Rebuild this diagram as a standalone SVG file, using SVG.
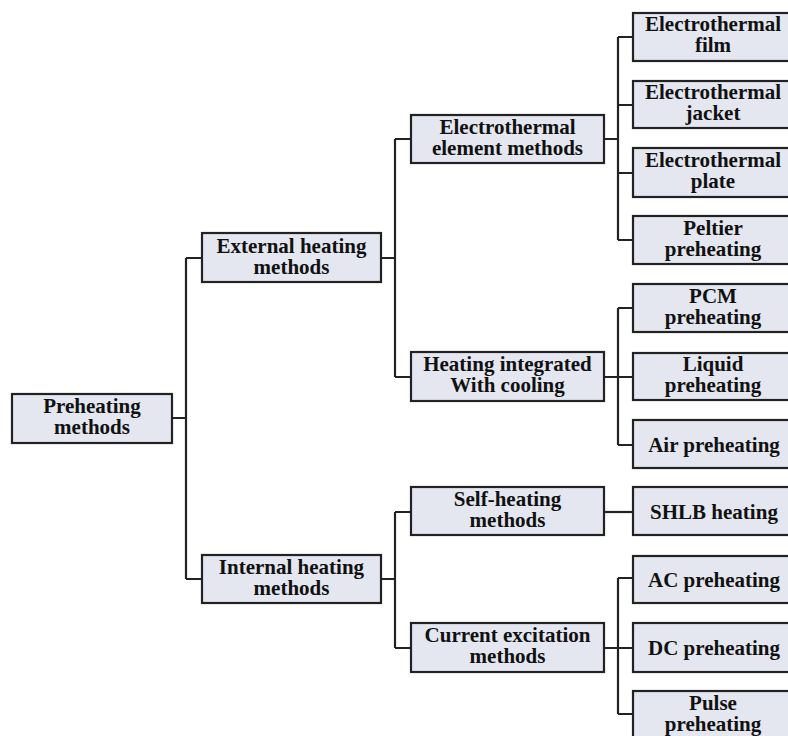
<svg xmlns="http://www.w3.org/2000/svg" width="788" height="736" viewBox="0 0 788 736">
<style>
.box{fill:#e4e7f0;stroke:#222;stroke-width:2.2}
.t{font-family:"Liberation Serif","Times New Roman",serif;font-weight:bold;font-size:21px;fill:#111;text-anchor:middle}
.c{fill:none;stroke:#222;stroke-width:2.2}
</style>
<rect width="788" height="736" fill="#fff"/>
<g id="connectors">
<path class="c" d="M172,418H186M186,258V579M186,258H202M186,579H202"/>
<path class="c" d="M381,258H395M395,139V377M395,139H411M395,377H411"/>
<path class="c" d="M381,579H395M395,512V648M395,512H411M395,648H411"/>
<path class="c" d="M604,139H618M618,37V240M618,37H633M618,105H633M618,173H633M618,240H633"/>
<path class="c" d="M604,377H618M618,308V445M618,308H633M618,377H633M618,445H633"/>
<path class="c" d="M604,512H633"/>
<path class="c" d="M604,648H618M618,578V714M618,578H633M618,648H633M618,714H633"/>
</g>
<g id="root"><rect class="box" x="12" y="394" width="160" height="49"/><text class="t" x="92" y="413">Preheating</text><text class="t" x="92" y="434">methods</text></g>
<g id="external"><rect class="box" x="202" y="233" width="179" height="49"/><text class="t" x="291.5" y="253">External heating</text><text class="t" x="291.5" y="274">methods</text></g>
<g id="internal"><rect class="box" x="202" y="555" width="179" height="48"/><text class="t" x="291.5" y="574">Internal heating</text><text class="t" x="291.5" y="595">methods</text></g>
<g id="element"><rect class="box" x="411" y="115" width="193" height="48"/><text class="t" x="507.5" y="134">Electrothermal</text><text class="t" x="507.5" y="155">element methods</text></g>
<g id="integrated"><rect class="box" x="411" y="352" width="193" height="49"/><text class="t" x="507.5" y="371">Heating integrated</text><text class="t" x="507.5" y="392">With cooling</text></g>
<g id="selfheating"><rect class="box" x="411" y="487" width="193" height="48"/><text class="t" x="507.5" y="506">Self-heating</text><text class="t" x="507.5" y="527">methods</text></g>
<g id="current"><rect class="box" x="411" y="623" width="193" height="49"/><text class="t" x="507.5" y="642">Current excitation</text><text class="t" x="507.5" y="663">methods</text></g>
<g id="film"><rect class="box" x="633" y="13" width="162" height="48"/><text class="t" x="713" y="31">Electrothermal</text><text class="t" x="713" y="52">film</text></g>
<g id="jacket"><rect class="box" x="633" y="81" width="162" height="47"/><text class="t" x="713" y="99">Electrothermal</text><text class="t" x="713" y="120">jacket</text></g>
<g id="plate"><rect class="box" x="633" y="148" width="162" height="49"/><text class="t" x="713" y="167">Electrothermal</text><text class="t" x="713" y="188">plate</text></g>
<g id="peltier"><rect class="box" x="633" y="216" width="162" height="48"/><text class="t" x="713" y="235">Peltier</text><text class="t" x="713" y="256">preheating</text></g>
<g id="pcm"><rect class="box" x="633" y="284" width="162" height="48"/><text class="t" x="713" y="303">PCM</text><text class="t" x="713" y="324">preheating</text></g>
<g id="liquid"><rect class="box" x="633" y="353" width="162" height="47"/><text class="t" x="713" y="371">Liquid</text><text class="t" x="713" y="392">preheating</text></g>
<g id="air"><rect class="box" x="633" y="420" width="162" height="48"/><text class="t" x="714" y="452">Air preheating</text></g>
<g id="shlb"><rect class="box" x="633" y="487" width="162" height="48"/><text class="t" x="714" y="519">SHLB heating</text></g>
<g id="ac"><rect class="box" x="633" y="556" width="162" height="47"/><text class="t" x="714" y="587">AC preheating</text></g>
<g id="dc"><rect class="box" x="633" y="623" width="162" height="49"/><text class="t" x="714" y="655">DC preheating</text></g>
<g id="pulse"><rect class="box" x="633" y="691" width="162" height="52"/><text class="t" x="713" y="710">Pulse</text><text class="t" x="713" y="731">preheating</text></g>
</svg>
